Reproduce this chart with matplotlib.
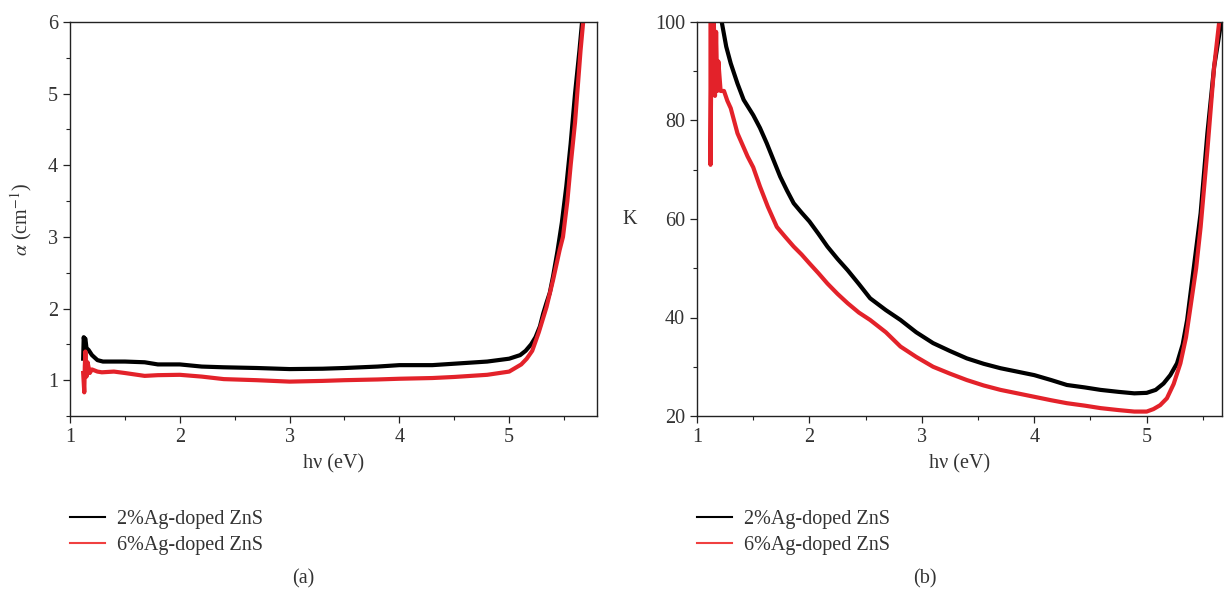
import numpy as np
import matplotlib
matplotlib.use("Agg")
import matplotlib.pyplot as plt
from matplotlib.ticker import MultipleLocator
from matplotlib.lines import Line2D

plt.rcParams['font.family'] = ['Liberation Serif', 'DejaVu Serif']
plt.rcParams['mathtext.fontset'] = 'stix'

# ---- data ----
# (a) absorption coefficient
ev_a_2 = [1.12, 1.125, 1.13, 1.14, 1.15, 1.17, 1.2, 1.25, 1.3, 1.5, 1.68, 1.8, 2.0, 2.2, 2.4,
          2.7, 3.0, 3.3, 3.5, 3.8, 4.0, 4.3, 4.5, 4.8, 5.0, 5.1, 5.15, 5.2, 5.24, 5.28,
          5.31, 5.34, 5.37, 5.40, 5.44, 5.48, 5.52, 5.56, 5.6, 5.64, 5.67]
alpha_2 = [1.3, 1.6, 1.55, 1.58, 1.45, 1.42, 1.35, 1.28, 1.26, 1.26, 1.25, 1.22, 1.22, 1.19, 1.18,
           1.17, 1.155, 1.16, 1.17, 1.19, 1.21, 1.21, 1.23, 1.26, 1.3, 1.35, 1.41, 1.5, 1.6, 1.75,
           1.93, 2.08, 2.22, 2.45, 2.8, 3.2, 3.7, 4.3, 5.0, 5.6, 6.1]
ev_a_6 = [1.12, 1.13, 1.135, 1.14, 1.15, 1.16, 1.18, 1.2, 1.25, 1.29, 1.4, 1.5, 1.68, 1.8, 2.0,
          2.2, 2.4, 2.7, 3.0, 3.3, 3.5, 3.8, 4.0, 4.3, 4.5, 4.8, 5.0, 5.11, 5.16, 5.21,
          5.27, 5.34, 5.4, 5.46, 5.49, 5.53, 5.56, 5.6, 5.62, 5.65, 5.68]
alpha_6 = [1.1, 0.83, 1.2, 1.4, 1.05, 1.25, 1.1, 1.15, 1.12, 1.11, 1.12, 1.1, 1.06, 1.07, 1.075,
           1.05, 1.015, 1.0, 0.98, 0.99, 1.0, 1.01, 1.02, 1.03, 1.045, 1.075, 1.12, 1.22, 1.3, 1.41,
           1.67, 2.02, 2.4, 2.82, 3.0, 3.5, 4.0, 4.6, 5.0, 5.6, 6.1]

# (b) K
ev_b_2 = [1.22, 1.26, 1.30, 1.36, 1.415, 1.50, 1.56, 1.62, 1.68, 1.74, 1.80, 1.86, 1.93, 2.0,
          2.08, 2.16, 2.25, 2.34, 2.44, 2.54, 2.68, 2.81, 2.95, 3.10, 3.25, 3.40, 3.55, 3.70,
          3.85, 4.0, 4.15, 4.29, 4.45, 4.59, 4.75, 4.89, 5.0, 5.08, 5.15, 5.21, 5.27, 5.32,
          5.36, 5.42, 5.48, 5.54, 5.6, 5.67]
k_2 = [100, 95, 91.6, 87.5, 84.2, 81.1, 78.5, 75.4, 72.0, 68.6, 65.8, 63.2, 61.3, 59.5,
       57.0, 54.4, 51.9, 49.6, 46.8, 43.9, 41.5, 39.5, 37.0, 34.8, 33.2, 31.7, 30.6, 29.7,
       29.0, 28.3, 27.3, 26.3, 25.8, 25.3, 24.9, 24.6, 24.7, 25.3, 26.6, 28.3, 30.7, 34.5,
       39.5, 50.3, 61.2, 77.4, 90.9, 101]
ev_b_6 = [1.12, 1.12, 1.13, 1.14, 1.15, 1.16, 1.17, 1.18, 1.19, 1.21, 1.24, 1.27, 1.30, 1.36,
          1.45, 1.50, 1.56, 1.63, 1.71, 1.78, 1.86, 1.93, 2.0, 2.08, 2.16, 2.25, 2.34, 2.44,
          2.54, 2.68, 2.81, 2.95, 3.10, 3.25, 3.40, 3.55, 3.70, 3.85, 4.0, 4.15, 4.29, 4.45,
          4.59, 4.75, 4.89, 5.0, 5.06, 5.12, 5.18, 5.24, 5.30, 5.35, 5.39, 5.44, 5.48, 5.54,
          5.6, 5.65]
k_6 = [100, 71, 100, 86, 100, 85, 98, 86, 92, 86, 86, 84, 82.5, 77.4,
       72.7, 70.5, 66.6, 62.5, 58.4, 56.5, 54.4, 52.8, 51.0, 49.0, 46.9, 44.8, 42.9, 41.0,
       39.5, 37.0, 34.1, 32.0, 30.0, 28.6, 27.3, 26.2, 25.3, 24.6, 23.9, 23.2, 22.6, 22.1,
       21.6, 21.2, 20.9, 20.9, 21.4, 22.2, 23.6, 26.5, 30.7, 36.0, 42.2, 50.0, 58.4, 74.0,
       90.9, 101]

labels = ['2%Ag-doped ZnS', '6%Ag-doped ZnS']
c_black = '#000000'
c_red = '#e3222a'
fs = 14.5

W, H = 1225, 596
fig = plt.figure(figsize=(W / 100, H / 100), dpi=100)

def px_axes(l, t, r, b):
    return fig.add_axes([l / W, 1 - b / H, (r - l) / W, (b - t) / H])

def style(ax):
    for s in ax.spines.values():
        s.set_linewidth(1.0)
        s.set_color('#222222')
    ax.tick_params(which='major', direction='out', length=5, width=0.9,
                   labelsize=fs, colors='#222222', labelcolor='#333333')
    ax.tick_params(which='minor', direction='out', length=3, width=0.8, colors='#222222')
    ax.xaxis.set_major_locator(MultipleLocator(1))
    ax.xaxis.set_minor_locator(MultipleLocator(0.5))
    ax.set_xlabel('hν (eV)', fontsize=fs, color='#333333', labelpad=5)

# ---- (a) ----
ax1 = px_axes(70, 22, 597, 416)
ax1.plot(ev_a_2, alpha_2, color=c_black, lw=3.0, solid_joinstyle='round')
ax1.plot(ev_a_6, alpha_6, color=c_red, lw=3.0, solid_joinstyle='round')
ax1.set_xlim(1, 5.8)
ax1.set_ylim(0.5, 6)
style(ax1)
ax1.yaxis.set_major_locator(MultipleLocator(1))
ax1.yaxis.set_minor_locator(MultipleLocator(0.5))
ax1.set_ylabel(r'$\alpha$ (cm$^{-1}$)', fontsize=fs, color='#333333', labelpad=10)

# ---- (b) ----
ax2 = px_axes(697, 22, 1222, 416)
ax2.plot(ev_b_2, k_2, color=c_black, lw=3.0, solid_joinstyle='round')
ax2.plot(ev_b_6, k_6, color=c_red, lw=3.0, solid_joinstyle='round')
ax2.set_xlim(1, 5.67)
ax2.set_ylim(20, 100)
style(ax2)
ax2.yaxis.set_major_locator(MultipleLocator(20))
ax2.yaxis.set_minor_locator(MultipleLocator(10))
ax2.set_ylabel('K', fontsize=fs, color='#333333', rotation=0, labelpad=18, va='center')

# legends below each panel
handles = [Line2D([], [], color=c_black, lw=1.5), Line2D([], [], color='#f04040', lw=1.5)]
for xpx in (66, 693):
    fig.legend(handles, labels, loc='upper left', bbox_to_anchor=(xpx / W, 1 - 506 / H),
               frameon=False, fontsize=fs, handlelength=1.75, handletextpad=0.6,
               labelspacing=0.32, labelcolor='#333333', borderaxespad=0, borderpad=0.2)

fig.text(303 / W, 1 - 579 / H, '(a)', ha='center', va='center', fontsize=fs, color='#333333')
fig.text(925 / W, 1 - 579 / H, '(b)', ha='center', va='center', fontsize=fs, color='#333333')

fig.savefig('out.png', dpi=100)
